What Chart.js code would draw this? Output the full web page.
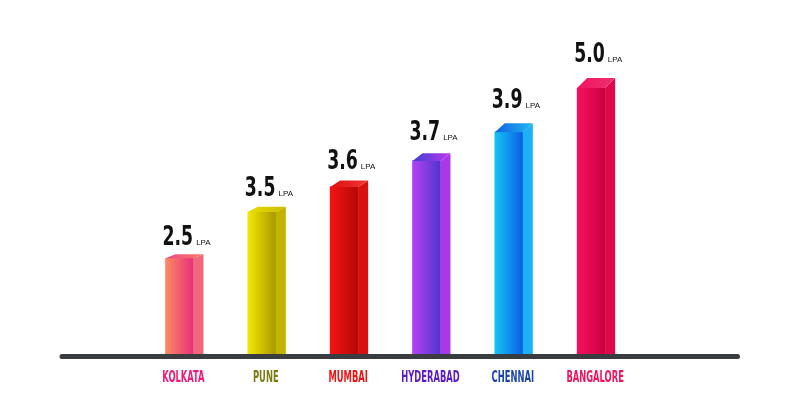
<!DOCTYPE html>
<html>
<head>
<meta charset="utf-8">
<script src="https://cdn.jsdelivr.net/npm/chart.js@4.4.1/dist/chart.umd.min.js"></script>
<style>
  html, body { margin: 0; padding: 0; background: #ffffff; }
  #wrap { width: 800px; height: 395px; }
</style>
</head>
<body>
<div id="wrap"><canvas id="salaryChart" width="800" height="395"></canvas></div>
<script>
// values
const cities = ['KOLKATA', 'PUNE', 'MUMBAI', 'HYDERABAD', 'CHENNAI', 'BANGALORE'];
const salaries = [2.5, 3.5, 3.6, 3.7, 3.9, 5.0];
// drawn bar heights (same units as the tallest bar, which is 5.0)
const barLevels = [1.8, 2.67, 3.14, 3.63, 4.17, 5.0];
const unitLabel = 'LPA';

const frontColors = [
  ['#fb8a62', '#e8307c'],
  ['#f4e800', '#a89800'],
  ['#f41414', '#b40808'],
  ['#b444f2', '#5034cc'],
  ['#16c4f4', '#0a5ee6'],
  ['#f41262', '#cc003e']
];
const sideColors = ['#f2687a', '#c4b400', '#d81010', '#a838e8', '#1cb0f6', '#e0084c'];
const capColors = [
  ['#ee4a80', '#f87a6a'],
  ['#e8dc00', '#ccbc00'],
  ['#e01010', '#f03434'],
  ['#3c40d0', '#c038f0'],
  ['#1060e0', '#20b8f4'],
  ['#f01460', '#f0306e']
];
const labelColors = ['#ee1a7a', '#7c7a14', '#f21212', '#5a1ac4', '#1a44a8', '#f0145e'];

const depthX = 10;
const narrowFont = '"Liberation Sans Narrow", "DejaVu Sans Condensed", "Liberation Sans", sans-serif';

function frontGradient(c) {
  const chart = c.chart;
  const i = c.dataIndex;
  if (!chart.chartArea || !chart.scales.x) return frontColors[i][0];
  const x = chart.scales.x.getPixelForValue(i);
  const g = chart.ctx.createLinearGradient(x - 14, 0, x + 14, 0);
  g.addColorStop(0, frontColors[i][0]);
  g.addColorStop(1, frontColors[i][1]);
  return g;
}

const bars3d = {
  id: 'bars3d',
  afterDatasetsDraw(chart) {
    const ctx = chart.ctx;
    const meta = chart.getDatasetMeta(0);
    const yZero = chart.scales.y.getPixelForValue(0);

    meta.data.forEach((bar, i) => {
      const left = bar.x - bar.width / 2;
      const right = bar.x + bar.width / 2;
      const top = bar.y;
      const base = bar.base;
      const dy = 4 + 1.2 * i;

      // side face
      ctx.save();
      ctx.fillStyle = sideColors[i];
      ctx.beginPath();
      ctx.moveTo(right, top);
      ctx.lineTo(right + depthX, top - dy);
      ctx.lineTo(right + depthX, base);
      ctx.lineTo(right, base);
      ctx.closePath();
      ctx.fill();

      // top face
      const g = ctx.createLinearGradient(left, 0, right + depthX, 0);
      g.addColorStop(0, capColors[i][0]);
      g.addColorStop(1, capColors[i][1]);
      ctx.fillStyle = g;
      ctx.beginPath();
      ctx.moveTo(left, top);
      ctx.lineTo(left + depthX, top - dy);
      ctx.lineTo(right + depthX, top - dy);
      ctx.lineTo(right, top);
      ctx.closePath();
      ctx.fill();
      ctx.restore();

      // value label (condensed)
      const ly = top - dy - (9 + 1.5 * i);
      const txt = salaries[i].toFixed(1);
      ctx.save();
      ctx.fillStyle = '#111111';
      ctx.textAlign = 'left';
      ctx.textBaseline = 'alphabetic';
      ctx.font = 'bold 26px ' + narrowFont;
      const w = ctx.measureText(txt).width * 0.74;
      ctx.translate(left - 3, ly);
      ctx.scale(0.74, 1);
      ctx.fillText(txt, 0, 0);
      ctx.restore();
      ctx.save();
      ctx.fillStyle = '#111111';
      ctx.font = '8px "Liberation Sans", sans-serif';
      ctx.fillText(unitLabel, left - 3 + w + 3, ly);
      ctx.restore();

      // city label
      ctx.save();
      ctx.translate(bar.x + 4, 382);
      ctx.scale(0.62, 1);
      ctx.font = 'bold 15px ' + narrowFont;
      ctx.textAlign = 'center';
      ctx.fillStyle = labelColors[i];
      ctx.fillText(cities[i], 0, 0);
      ctx.restore();
    });

    // ground line
    ctx.save();
    ctx.strokeStyle = '#3a3d40';
    ctx.lineWidth = 5;
    ctx.lineCap = 'round';
    ctx.beginPath();
    ctx.moveTo(62, yZero + 2.5);
    ctx.lineTo(737.5, yZero + 2.5);
    ctx.stroke();
    ctx.restore();
  }
};

new Chart(document.getElementById('salaryChart'), {
  type: 'bar',
  data: {
    labels: cities,
    datasets: [{
      data: barLevels,
      backgroundColor: frontGradient,
      borderWidth: 0,
      barThickness: 28
    }]
  },
  options: {
    responsive: false,
    animation: false,
    layout: { padding: { left: 138.3, right: 167.7, top: 61.4, bottom: 41 } },
    plugins: { legend: { display: false }, tooltip: { enabled: false } },
    scales: {
      x: { display: false, offset: true },
      y: { display: false, min: 0, max: 5.5 }
    }
  },
  plugins: [bars3d]
});
</script>
</body>
</html>
